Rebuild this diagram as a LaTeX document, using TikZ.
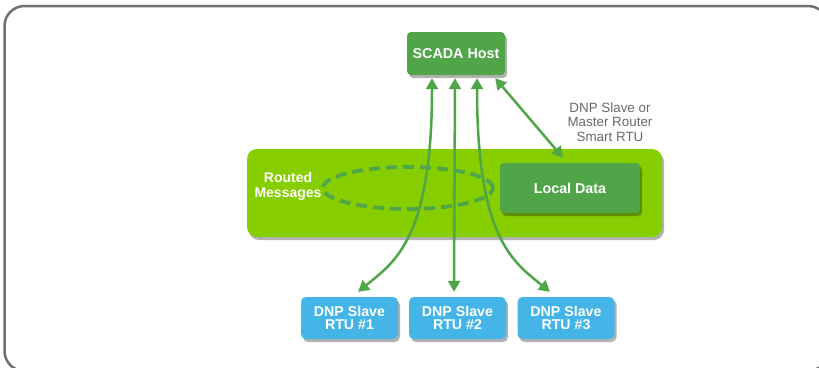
\documentclass[tikz,border=0pt]{standalone}
\usepackage{fontspec}
\setmainfont{Liberation Sans}
\usetikzlibrary{arrows.meta,shadows}
\definecolor{hostgreen}{RGB}{80,165,72}
\definecolor{limegreen}{RGB}{134,206,0}
\definecolor{rtublue}{RGB}{68,181,230}
\definecolor{framegray}{RGB}{112,112,112}
\definecolor{notegray}{RGB}{105,105,105}
\tikzset{
	boxshadow/.style={drop shadow={shadow xshift=2pt,shadow yshift=-3pt,opacity=.3,fill=black}},
	hostbox/.style={fill=hostgreen,rounded corners=4pt,boxshadow,text=white,font=\bfseries\fontsize{14.3}{14}\selectfont,minimum width=98pt,minimum height=43pt,inner sep=0pt},
	rtubox/.style={fill=rtublue,rounded corners=5pt,boxshadow,text=white,font=\bfseries\fontsize{14.2}{13.5}\selectfont,align=center,minimum width=97pt,minimum height=42pt,inner sep=0pt},
	panel/.style={fill=limegreen,rounded corners=10pt,boxshadow,minimum width=415pt,minimum height=88pt,inner sep=0pt},
	link/.style={draw=hostgreen,line width=2.5pt,>={Triangle[length=11pt,width=12pt]}},
	dashlink/.style={draw=hostgreen,line width=3.8pt,dash pattern=on 11pt off 6pt}
}
\begin{document}
\begin{tikzpicture}[x=1pt,y=-1pt]
	\useasboundingbox (0,0) rectangle (819,367);
	\draw[framegray,line width=2.5pt,rounded corners=20pt] (4.5,6) rectangle (828,371);
	% boxes
	\node[panel] (panel) at (454.5,193) {};
	\node[hostbox,minimum width=140pt,minimum height=50pt] (local) at (570,188) {Local Data};
	\node[hostbox] (scada) at (456,53.5) {SCADA Host};
	\node[rtubox] (rtu1) at (349.5,318) {DNP Slave\\RTU \#1};
	\node[rtubox] (rtu2) at (457.5,318) {DNP Slave\\RTU \#2};
	\node[rtubox] (rtu3) at (566,318) {DNP Slave\\RTU \#3};
	\node[text=notegray,align=center,font=\fontsize{13.4}{14.5}\selectfont] (note) at (610,122) {DNP Slave or\\Master Router\\Smart RTU};
	\node[text=white,align=center,font=\bfseries\fontsize{14}{15}\selectfont] (routed) at (288,186.5) {Routed\\Messages};
	% routed messages
	\draw[dashlink] (408,188) ellipse [x radius=85pt,y radius=21pt];
	% links
	\draw[link,<->] ([xshift=-24pt,yshift=-3pt]scada.south) .. controls +(0,160) and +(37,-30) .. ([xshift=8.5pt,yshift=5pt]rtu1.north);
	\draw[link,<->] ([xshift=-1pt,yshift=-3pt]scada.south) -- ([xshift=-3.5pt,yshift=5pt]rtu2.north);
	\draw[link,<->] ([xshift=21pt,yshift=-3pt]scada.south) .. controls +(0,160) and +(-37,-30) .. ([xshift=-16pt,yshift=5pt]rtu3.north);
	\draw[link,<->] ([xshift=-10pt,yshift=-3pt]scada.south east) -- ([xshift=-7pt,yshift=5pt]local.north);
\end{tikzpicture}
\end{document}
